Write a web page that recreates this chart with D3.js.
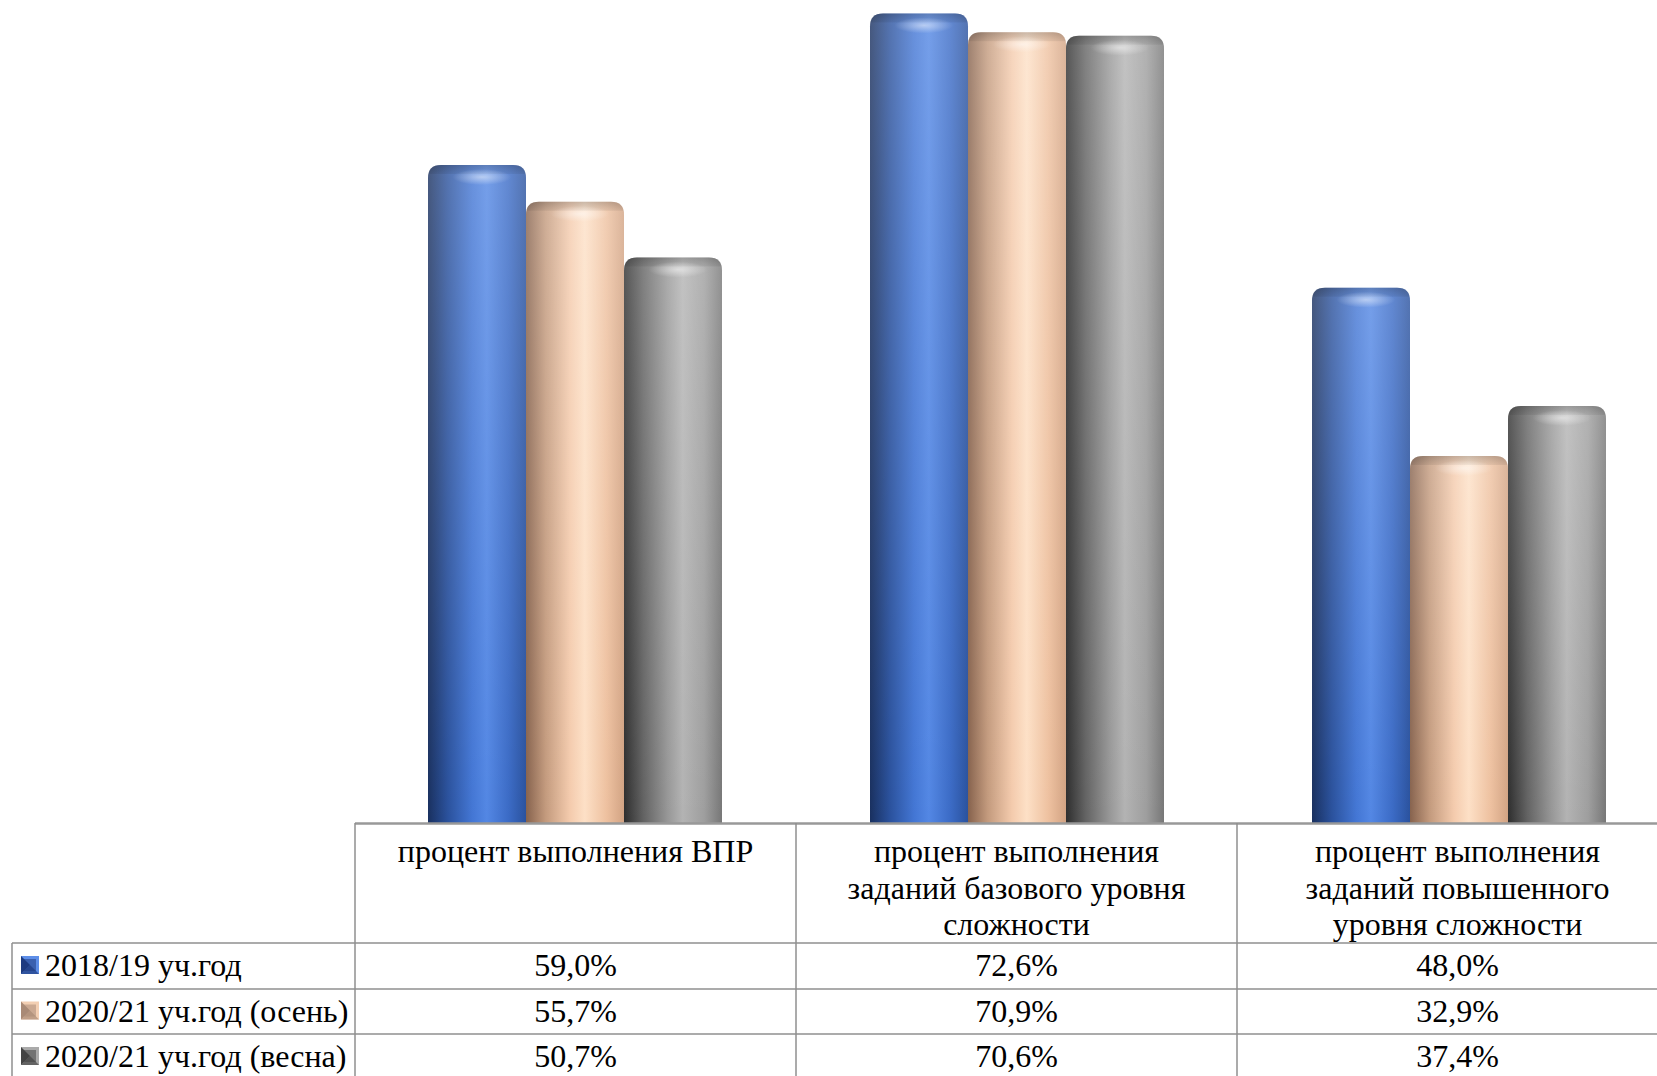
<!DOCTYPE html>
<html><head><meta charset="utf-8">
<script src="https://cdn.jsdelivr.net/npm/d3@7"></script>
<style>html,body{margin:0;padding:0;background:#fff;overflow:hidden}</style>
</head><body>
<svg id="c" width="1657" height="1076"></svg>
<script>
const categories = [
  ["процент выполнения ВПР"],
  ["процент выполнения", "заданий базового уровня", "сложности"],
  ["процент выполнения", "заданий повышенного", "уровня сложности"]
];
const catKeys = ["vpr", "base", "adv"];
const seriesNames = ["2018/19 уч.год", "2020/21 уч.год (осень)", "2020/21 уч.год (весна)"];
const values2018 = [59.0, 72.6, 48.0];
const valuesAutumn = [55.7, 70.9, 32.9];
const valuesSpring = [50.7, 70.6, 37.4];
const seriesValues = [values2018, valuesAutumn, valuesSpring];

const loc = d3.formatLocale({decimal: ",", thousands: " ", grouping: [3], currency: ["", ""]});
const fmt = v => loc.format(".1f")(v) + "%";

const svg = d3.select("#c");
const defs = svg.append("defs");
const palettes = [
  {stops: ["#19305f", "#2a519c", "#4376d4", "#5387e4", "#3b6bc6", "#2a529e"], sw: ["#1d3b80", "#5d8ee8"]},
  {stops: ["#86624d", "#c39a7d", "#f4cbad", "#fde0c6", "#eec1a0", "#d2a383"], sw: ["#a98a76", "#f3cfb3"]},
  {stops: ["#2e2e2e", "#636363", "#989898", "#b3b3b3", "#9e9e9e", "#777777"], sw: ["#444", "#aaa"]}
];
const offs = [0, 0.2, 0.45, 0.6, 0.82, 1];
palettes.forEach((p, i) => {
  const g = defs.append("linearGradient").attr("id", "h" + i).attr("x1", 0).attr("x2", 1).attr("y1", 0).attr("y2", 0);
  p.stops.forEach((c, k) => g.append("stop").attr("offset", offs[k]).attr("stop-color", c));
});
const vg = defs.append("linearGradient").attr("id", "vshade").attr("x1", 0).attr("x2", 0).attr("y1", 0).attr("y2", 1);
vg.append("stop").attr("offset", 0).attr("stop-color", "#fff").attr("stop-opacity", 0.2);
vg.append("stop").attr("offset", 1).attr("stop-color", "#fff").attr("stop-opacity", 0);
const rg = defs.append("radialGradient").attr("id", "hl");
rg.append("stop").attr("offset", 0).attr("stop-color", "#fff").attr("stop-opacity", 0.5);
rg.append("stop").attr("offset", 1).attr("stop-color", "#fff").attr("stop-opacity", 0);
const eg = defs.append("linearGradient").attr("id", "topedge").attr("x1", 0).attr("x2", 0).attr("y1", 0).attr("y2", 1);
eg.append("stop").attr("offset", 0).attr("stop-color", "#000").attr("stop-opacity", 0.2);
eg.append("stop").attr("offset", 1).attr("stop-color", "#000").attr("stop-opacity", 0);

const baseY = 823;
const y = d3.scaleLinear().domain([0, 73.8]).range([baseY, 0]);
const x0 = d3.scaleBand().domain(catKeys).range([354, 1680]);
const groupW = 294;
const x1 = d3.scaleBand().domain(d3.range(3)).range([0, groupW]);

function barPath(x, yt, w, yb, r) {
  return `M${x},${yb}V${yt + r}Q${x},${yt} ${x + r},${yt}H${x + w - r}Q${x + w},${yt} ${x + w},${yt + r}V${yb}Z`;
}

const bars = svg.append("g");
catKeys.forEach((k, ci) => {
  const gx = x0(k) + (x0.step() - groupW) / 2;
  seriesValues.forEach((vals, si) => {
    const bx = gx + x1(si), bw = x1.bandwidth(), yt = y(vals[ci]);
    const r = 13;
    const d = barPath(bx, yt, bw, baseY, r);
    bars.append("path").attr("d", d).attr("fill", `url(#h${si})`);
    bars.append("path").attr("d", d).attr("fill", "url(#vshade)");
    bars.append("path").attr("d", barPath(bx, yt, bw, yt + 9, r)).attr("fill", "url(#topedge)");
    bars.append("ellipse").attr("cx", bx + bw * 0.55).attr("cy", yt + 12).attr("rx", bw * 0.3).attr("ry", 8).attr("fill", "url(#hl)");
  });
});

// table
const colScale = d3.scaleBand().domain(catKeys).range([355, 1678]);
const legendLeft = 12;
const rowTops = [943, 989, 1034, 1080];
const lineCol = "#8f8f8f";
const tbl = svg.append("g");
tbl.append("line").attr("x1", 355).attr("x2", 1657).attr("y1", baseY + 0.5).attr("y2", baseY + 0.5)
  .attr("stroke", "#999").attr("stroke-width", 2.5);
colScale.domain().forEach(k => {
  tbl.append("line").attr("x1", colScale(k)).attr("x2", colScale(k)).attr("y1", baseY).attr("y2", 1080)
    .attr("stroke", lineCol).attr("stroke-width", 1.5);
});
tbl.append("line").attr("x1", 1678).attr("x2", 1678).attr("y1", baseY).attr("y2", 1080).attr("stroke", lineCol).attr("stroke-width", 1.5);
tbl.append("line").attr("x1", legendLeft).attr("x2", legendLeft).attr("y1", rowTops[0]).attr("y2", 1080).attr("stroke", lineCol).attr("stroke-width", 1.5);
rowTops.forEach(ry => {
  tbl.append("line").attr("x1", legendLeft).attr("x2", 1678).attr("y1", ry).attr("y2", ry).attr("stroke", lineCol).attr("stroke-width", 1.5);
});

const font = "'Liberation Serif','Times New Roman',serif";
const fs = 32;
catKeys.forEach((k, ci) => {
  const cx = colScale(k) + colScale.bandwidth() / 2;
  categories[ci].forEach((line, li) => {
    tbl.append("text").attr("x", cx).attr("y", 862 + li * 36.5).attr("text-anchor", "middle")
      .attr("font-family", font).attr("font-size", fs).attr("fill", "#000").text(line);
  });
});
seriesNames.forEach((name, si) => {
  const cy = (rowTops[si] + rowTops[si + 1]) / 2;
  const s = 18, sx = 21, sy = cy - 10;
  const p = palettes[si].sw;
  tbl.append("rect").attr("x", sx).attr("y", sy).attr("width", s).attr("height", s).attr("fill", p[1]);
  tbl.append("path").attr("d", `M${sx},${sy}L${sx + s / 2},${sy + s / 2}L${sx},${sy + s}Z`).attr("fill", p[0]);
  tbl.append("path").attr("d", `M${sx},${sy + s}L${sx + s / 2},${sy + s / 2}L${sx + s},${sy + s}Z`).attr("fill", p[0]).attr("opacity", 0.7);
  tbl.append("rect").attr("x", sx + 3).attr("y", sy + 3).attr("width", s - 6).attr("height", s - 6).attr("fill", p[0]).attr("opacity", 0.55);
  tbl.append("text").attr("x", 45).attr("y", cy + 10).attr("font-family", font).attr("font-size", fs).attr("fill", "#000").text(name);
  catKeys.forEach((k, ci) => {
    const cx = colScale(k) + colScale.bandwidth() / 2;
    tbl.append("text").attr("x", cx).attr("y", cy + 10).attr("text-anchor", "middle")
      .attr("font-family", font).attr("font-size", fs).attr("fill", "#000").text(fmt(seriesValues[si][ci]));
  });
});
</script>
</body></html>
